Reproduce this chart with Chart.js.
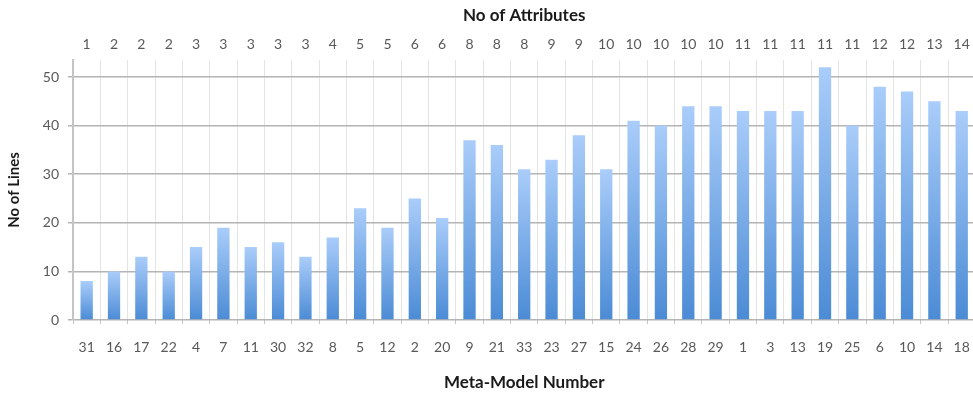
<!DOCTYPE html>
<html>
<head>
<meta charset="utf-8">
<script src="https://cdn.jsdelivr.net/npm/chart.js@4/dist/chart.umd.min.js"></script>
<style>
  html, body { margin: 0; padding: 0; background: #ffffff; overflow: hidden; }
  #wrap { width: 985px; height: 395px; position: relative; }
</style>
</head>
<body>
<div id="wrap"><canvas id="chart"></canvas></div>
<script>
// Meta-model numbers along the bottom axis
const metaModels = ['31','16','17','22','4','7','11','30','32','8','5','12','2','20','9','21','33','23','27','15','24','26','28','29','1','3','13','19','25','6','10','14','18'];
// Number of attributes for each meta-model (top axis)
const attributes = ['1','2','2','2','3','3','3','3','3','4','5','5','6','6','8','8','8','9','9','10','10','10','10','10','11','11','11','11','11','12','12','13','14'];
// Number of lines for each meta-model
const lineCounts = [8,10,13,10,15,19,15,16,13,17,23,19,25,21,37,36,31,33,38,31,41,40,44,44,43,43,43,52,40,48,47,45,43];
// Value axis ticks
const yTicks = [0,10,20,30,40,50];

const FONT = 'Lato, "Open Sans", "Liberation Sans", sans-serif';

// vertical gradient per bar: pale at the top, deeper blue at the base
function barFill(ctx) {
  const chart = ctx.chart;
  const y = chart.scales.y;
  if (!y || ctx.parsed === undefined) return '#7aaee8';
  const top = y.getPixelForValue(ctx.parsed.y);
  const base = y.getPixelForValue(0);
  if (!isFinite(top) || !isFinite(base) || top === base) return '#7aaee8';
  const g = chart.ctx.createLinearGradient(0, top, 0, base);
  g.addColorStop(0, '#aacdfa');
  g.addColorStop(1, '#4b8bd5');
  return g;
}

new Chart(document.getElementById('chart'), {
  type: 'bar',
  data: {
    labels: metaModels,
    datasets: [{
      data: lineCounts,
      backgroundColor: barFill,
      borderWidth: 0,
      barPercentage: 0.45,
      categoryPercentage: 1.0
    }]
  },
  options: {
    responsive: true,
    maintainAspectRatio: false,
    animation: false,
    layout: { padding: { left: 0, right: 0, top: 0, bottom: 0 } },
    plugins: { legend: { display: false }, tooltip: { enabled: false } },
    scales: {
      x: {
        type: 'category',
        position: 'bottom',
        grid: { color: '#e4e4e4', lineWidth: 1, offset: true, drawTicks: true, tickLength: 4, tickColor: '#c4c4c4' },
        border: { display: false },
        ticks: { color: '#595959', font: { family: FONT, size: 14 }, padding: 15, maxRotation: 0, autoSkip: false },
        title: { display: true, text: 'Meta-Model Number', color: '#1a1a1a', font: { family: FONT, size: 17, weight: 'bold' }, padding: { top: 0, bottom: 2 } },
        afterFit(scale) { scale.height = 75; }
      },
      xTop: {
        type: 'category',
        position: 'top',
        labels: attributes,
        offset: true,
        grid: { display: false, drawTicks: false },
        border: { display: false },
        ticks: { color: '#595959', font: { family: FONT, size: 14 }, padding: 7, maxRotation: 0, autoSkip: false },
        title: { display: true, text: 'No of Attributes', color: '#1a1a1a', font: { family: FONT, size: 17, weight: 'bold' }, padding: { top: 5, bottom: 0 } },
        afterFit(scale) { scale.height = 60; }
      },
      y: {
        min: 0,
        max: 53.5,
        afterBuildTicks(scale) { scale.ticks = yTicks.map(v => ({ value: v })); },
        grid: { color: '#b4b4b4', lineWidth: 1.5, drawTicks: true, tickLength: 5, tickColor: '#b4b4b4' },
        border: { display: true, color: '#c4c4c4', width: 2 },
        ticks: { color: '#595959', font: { family: FONT, size: 14 }, padding: 9 },
        title: { display: true, text: 'No of Lines', color: '#1a1a1a', font: { family: FONT, size: 15, weight: 'bold' }, padding: { top: 5, bottom: 0 } },
        afterFit(scale) { scale.width = 73; }
      }
    }
  }
});
</script>
</body>
</html>
